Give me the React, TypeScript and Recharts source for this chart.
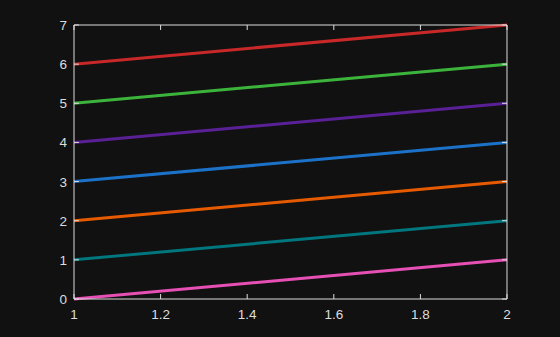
import { LineChart, Line, XAxis, YAxis } from 'recharts'

const xTicks = [1, 1.2, 1.4, 1.6, 1.8, 2]
const yTicks = [0, 1, 2, 3, 4, 5, 6, 7]
const xValues = [1, 2]

const seriesNames = ['s0', 's1', 's2', 's3', 's4', 's5', 's6']
const seriesValues = [
  [0, 1],
  [1, 2],
  [2, 3],
  [3, 4],
  [4, 5],
  [5, 6],
  [6, 7],
]
const seriesColors = ['#e64fb4', '#00767e', '#e65a00', '#1c72c8', '#5a2096', '#3cb43c', '#c82828']

const FG = '#dddddd'
const BG = '#111111'
const TICK = 5
const FONT = 'Liberation Sans, Arial, sans-serif'

const fmt = (v: number) => String(Number(v.toFixed(1)))

function BottomTick(props: any) {
  const { x, y, payload } = props
  return (
    <g>
      <line x1={x} y1={y} x2={x} y2={y - TICK} stroke={FG} />
      <text x={x} y={y + 20} textAnchor="middle" fill={FG} style={{ fontSize: 13.5, fontFamily: FONT }}>
        {fmt(payload.value)}
      </text>
    </g>
  )
}

function LeftTick(props: any) {
  const { x, y, payload } = props
  return (
    <g>
      <line x1={x} y1={y} x2={x + TICK} y2={y} stroke={FG} />
      <text x={x - 7} y={y + 5} textAnchor="end" fill={FG} style={{ fontSize: 13.5, fontFamily: FONT }}>
        {payload.value}
      </text>
    </g>
  )
}

function TopTick(props: any) {
  const { x, y } = props
  return <line x1={x} y1={y} x2={x} y2={y + TICK} stroke={FG} />
}

function RightTick(props: any) {
  const { x, y } = props
  return <line x1={x} y1={y} x2={x - TICK} y2={y} stroke={FG} />
}

export default function App() {
  return (
    <div style={{ position: 'fixed', left: 0, top: 0, width: 560, height: 337, background: BG }}>
      <LineChart width={560} height={337} margin={{ top: 25, right: 53, bottom: 0, left: 0 }}>
        <XAxis
          xAxisId="b"
          type="number"
          dataKey="x"
          domain={[1, 2]}
          ticks={xTicks}
          orientation="bottom"
          height={38}
          tickSize={0.001}
          tickMargin={0}
          tickLine={false}
          tick={<BottomTick />}
          axisLine={{ stroke: FG }}
        />
        <XAxis
          xAxisId="t"
          type="number"
          dataKey="x"
          domain={[1, 2]}
          ticks={xTicks}
          orientation="top"
          height={0.001}
          tickSize={0.001}
          tickMargin={0}
          tickLine={false}
          tick={<TopTick />}
          axisLine={{ stroke: FG }}
        />
        <YAxis
          yAxisId="l"
          type="number"
          domain={[0, 7]}
          ticks={yTicks}
          orientation="left"
          width={74}
          tickSize={0.001}
          tickMargin={0}
          tickLine={false}
          tick={<LeftTick />}
          axisLine={{ stroke: FG }}
        />
        <YAxis
          yAxisId="r"
          type="number"
          domain={[0, 7]}
          ticks={yTicks}
          orientation="right"
          width={0.001}
          tickSize={0.001}
          tickMargin={0}
          tickLine={false}
          tick={<RightTick />}
          axisLine={{ stroke: FG }}
        />
        <Line
          xAxisId="t"
          yAxisId="r"
          data={xValues.map((xv, j) => ({ x: xv, y: seriesValues[0][j] }))}
          dataKey="y"
          stroke="none"
          dot={false}
          legendType="none"
          isAnimationActive={false}
        />
        {seriesValues.map((vals, i) => (
          <Line
            key={seriesNames[i]}
            xAxisId="b"
            yAxisId="l"
            data={xValues.map((xv, j) => ({ x: xv, y: vals[j] }))}
            dataKey="y"
            name={seriesNames[i]}
            stroke={seriesColors[i]}
            strokeWidth={3}
            dot={false}
            isAnimationActive={false}
          />
        ))}
      </LineChart>
    </div>
  )
}
